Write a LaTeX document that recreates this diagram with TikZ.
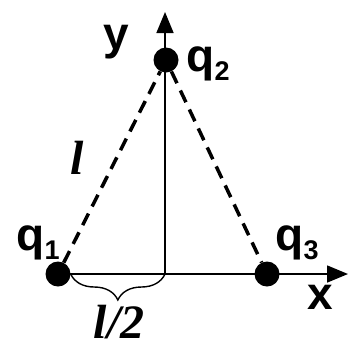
\documentclass[tikz,border=0pt]{standalone}
\usepackage{fontspec}
\setmainfont{Liberation Sans}
\newfontfamily\lenfont{Liberation Serif}
\usetikzlibrary{arrows.meta,decorations.pathreplacing}
\newcommand{\chg}[1]{q\raisebox{-0.2em}{\fontsize{27}{27}\selectfont #1}}

\begin{document}
\begin{tikzpicture}[x=1pt,y=-1pt,
  charge/.style={circle,fill=black,inner sep=0pt,minimum size=25pt},
  axis/.style={line width=1.6pt,-{Triangle[length=21pt,width=17pt]}},
  bond/.style={line width=3.5pt,dash pattern=on 13pt off 8pt},
  lab/.style={font=\fontsize{46}{46}\selectfont\bfseries,inner sep=0pt},
  len/.style={font=\fontsize{48}{48}\selectfont\lenfont\bfseries\itshape,inner sep=0pt}]
  \useasboundingbox (0,0) rectangle (352,349);
  % charges
  \node[charge] (q1) at (58,274) {};
  \node[charge] (q2) at (166,60) {};
  \node[charge] (q3) at (267,274) {};
  \coordinate (O) at (165,274);
  \coordinate (ytip) at (165,12);
  \coordinate (xtip) at (348,274);
  % axes
  \draw[axis] (O) -- (ytip);
  \draw[axis] (q1.center) -- (xtip);
  % sides
  \draw[bond] (q1) -- (q2);
  \draw[bond] (q2) -- (q3);
  \draw[bond,line width=2.5pt] (q1) -- (q3);
  % half length
  \draw[line width=1.4pt,decorate,decoration={brace,amplitude=26pt}] (O) -- (q1.east);
  % labels
  \node[lab] (lq1) at (38,243) {\chg{1}};
  \node[lab] (lq2) at (208,64) {\chg{2}};
  \node[lab] (lq3) at (297,243) {\chg{3}};
  \node[lab] (ly) at (116,42) {y};
  \node[lab] (lx) at (320,297) {x};
  \node[len] (side) at (77,158) {l};
  \node[len] (half) at (119,322) {l/2};
\end{tikzpicture}
\end{document}
